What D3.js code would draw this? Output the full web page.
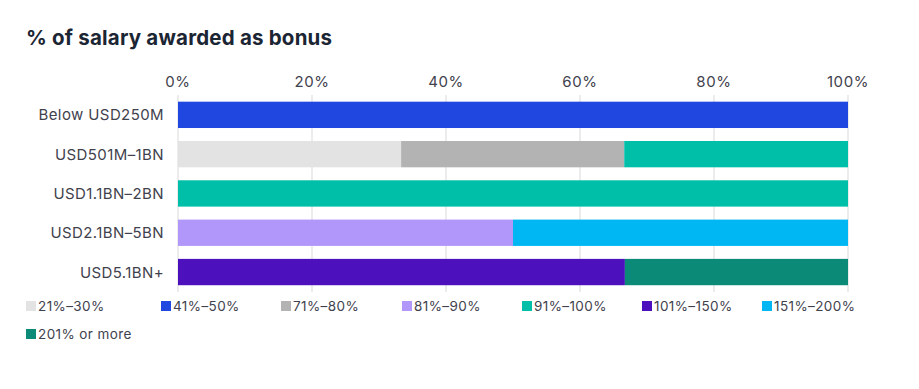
<!DOCTYPE html>
<html>
<head>
<meta charset="utf-8">
<script src="https://cdn.jsdelivr.net/npm/d3@7"></script>
<style>
  body { margin: 0; background: #fff; }
  svg { display: block; font-family: "Inter", "Roboto", sans-serif; }
</style>
</head>
<body>
<script>
// rows, top to bottom
var categories = ["Below USD250M", "USD501M\u20131BN", "USD1.1BN\u20132BN", "USD2.1BN\u20135BN", "USD5.1BN+"];
var seriesNames = ["21%\u201330%", "41%\u201350%", "71%\u201380%", "81%\u201390%", "91%\u2013100%", "101%\u2013150%", "151%\u2013200%", "201% or more"];
var seriesColors = ["#e3e3e3", "#2047e0", "#b3b3b3", "#b197fa", "#00bfa9", "#4c10bd", "#00b6f3", "#0b8a78"];
// share of each row (percent), one array per series
var s21_30   = [0, 33.3, 0, 0, 0];
var s41_50   = [100, 0, 0, 0, 0];
var s71_80   = [0, 33.3, 0, 0, 0];
var s81_90   = [0, 0, 0, 50, 0];
var s91_100  = [0, 33.4, 100, 0, 0];
var s101_150 = [0, 0, 0, 0, 66.7];
var s151_200 = [0, 0, 0, 50, 0];
var s201     = [0, 0, 0, 0, 33.3];
var ticks = [0, 20, 40, 60, 80, 100];

var seriesValues = [s21_30, s41_50, s71_80, s81_90, s91_100, s101_150, s151_200, s201];

var width = 919, height = 389;
var svg = d3.select("body").append("svg").attr("width", width).attr("height", height);

svg.append("text").attr("x", 26).attr("y", 45)
    .attr("font-size", 20.5).attr("font-weight", 700).attr("fill", "#1b2533")
    .attr("letter-spacing", 0.2)
    .text("% of salary awarded as bonus");

var x = d3.scaleLinear().domain([0, 100]).range([178, 848]);
var y = d3.scaleBand().domain(categories).range([95.2, 291.7]).paddingInner(0.33).paddingOuter(0.165);

// grid
svg.append("g").selectAll("line").data(ticks).enter().append("line")
    .attr("x1", function (d) { return x(d); }).attr("x2", function (d) { return x(d); })
    .attr("y1", 95).attr("y2", 292)
    .attr("stroke", "#e6e6e6").attr("stroke-width", 1.5);

// top axis labels
svg.append("g").selectAll("text").data(ticks).enter().append("text")
    .attr("x", function (d) { return x(d); }).attr("y", 87)
    .attr("text-anchor", "middle").attr("font-size", 15).attr("fill", "#3f424d")
    .attr("letter-spacing", 0.6)
    .text(function (d) { return d + "%"; });

// category labels
svg.append("g").selectAll("text").data(categories).enter().append("text")
    .attr("x", 164).attr("y", function (d) { return y(d) + y.bandwidth() / 2 + 5.5; })
    .attr("text-anchor", "end").attr("font-size", 15).attr("fill", "#3f424d")
    .attr("letter-spacing", 0.4)
    .text(function (d) { return d; });

// stacked bars
var table = categories.map(function (c, i) {
    var row = { cat: c };
    seriesNames.forEach(function (s, j) { row[s] = seriesValues[j][i]; });
    return row;
});
var stack = d3.stack().keys(seriesNames)(table);

svg.append("g").selectAll("g").data(stack).enter().append("g")
    .attr("fill", function (d, i) { return seriesColors[i]; })
    .selectAll("rect").data(function (d) { return d; }).enter().append("rect")
    .attr("x", function (d) { return x(d[0]); })
    .attr("width", function (d) { return x(d[1]) - x(d[0]); })
    .attr("y", function (d) { return y(d.data.cat); })
    .attr("height", y.bandwidth());

// legend
var legendX = [26, 161, 281, 402, 522, 642, 762, 26];
var legendY = [311, 311, 311, 311, 311, 311, 311, 339];
var lg = svg.append("g").selectAll("g").data(seriesNames).enter().append("g")
    .attr("transform", function (d, i) { return "translate(" + legendX[i] + "," + legendY[i] + ")"; });
lg.append("rect").attr("x", 0).attr("y", -10).attr("width", 10).attr("height", 10)
    .attr("fill", function (d, i) { return seriesColors[i]; });
lg.append("text").attr("x", 12).attr("y", 0)
    .attr("font-size", 13.5).attr("fill", "#3f424d")
    .attr("letter-spacing", 0.4)
    .text(function (d) { return d; });
</script>
</body>
</html>
